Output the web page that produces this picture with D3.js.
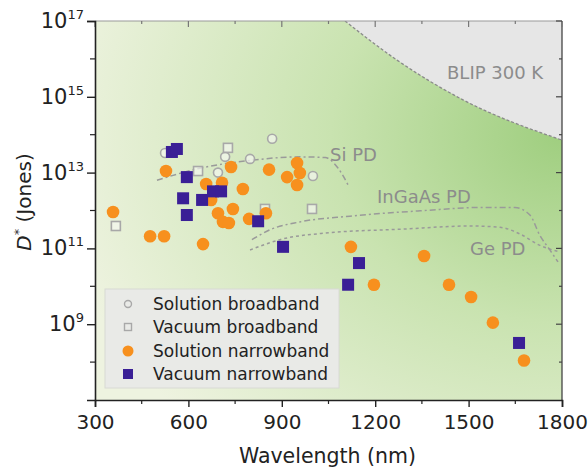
<!DOCTYPE html>
<html><head><meta charset="utf-8">
<script src="https://cdn.jsdelivr.net/npm/d3@7"></script>
<style>body{margin:0;background:#fff;}svg{display:block;}</style>
</head><body><svg id="c" width="588" height="470"></svg>
<script>
// ---- data ----
const xTicks = [300, 600, 900, 1200, 1500, 1800];
const yTickExps = [9, 11, 13, 15, 17];

const solNarrowWl = [358,477,522,528,647,657,708,673,695,711,730,743,737,775,795,849,859,917,949,958,949,1122,1196,1357,1437,1508,1578,1678];
const solNarrowD  = [9.1e11,2.1e11,2.1e11,1.1e13,1.3e11,5.0e12,5.4e12,1.9e12,8.5e11,5.0e11,4.7e11,1.1e12,1.4e13,3.7e12,6.0e11,8.5e11,1.2e13,7.6e12,1.8e13,9.8e12,4.7e12,1.1e11,1.1e10,6.3e10,1.1e10,5.2e9,1.1e9,1.1e8];

const vacNarrowWl = [547,563,595,583,644,595,679,705,824,904,1148,1113,1662];
const vacNarrowD  = [3.5e13,4.2e13,7.6e12,2.1e12,1.9e12,7.6e11,3.2e12,3.2e12,5.2e11,1.1e11,4.1e10,1.1e10,3.2e8];

const solBroadWl = [525,718,695,869,1000,798];
const solBroadD  = [3.3e13,2.6e13,1.0e13,7.8e13,8.1e12,2.3e13];

const vacBroadWl = [727,846,997,367,631];
const vacBroadD  = [4.5e13,1.1e12,1.1e12,3.9e11,1.1e13];

const siWl = [499,637,798,958,1039,1081,1113];
const siD  = [6.3e12,1.3e13,2.1e13,2.6e13,2.5e13,1.3e13,4.7e12];
const ingaasWl = [804,862,958,1119,1344,1537,1649,1697,1729,1761,1787];
const ingaasD  = [1.7e11,3.1e11,5.0e11,7.1e11,9.8e11,1.2e12,1.2e12,7.6e11,2.2e11,9.1e10,4.4e10];
const geWl = [798,894,1055,1280,1504,1601,1665,1729,1793];
const geD  = [9.1e10,1.7e11,2.6e11,3.2e11,3.9e11,3.6e11,2.4e11,1.2e11,8.1e10];
const blipWl = [1103,1270,1482,1800];
const blipD  = [1e17,9.3e15,8.3e14,7.2e13];

const legendLabels = ["Solution broadband","Vacuum broadband","Solution narrowband","Vacuum narrowband"];

// ---- layout ----
const L = 95, R = 562, T = 21, B = 400;
const ORANGE = "#f7901e", PURPLE = "#3a1f96", GRAYM = "#a8a8a8";
const svg = d3.select("#c");
const x = d3.scaleLinear([300, 1800], [L, R]);
const y = d3.scaleLog([1e7, 1e17], [B, T]);
const FONT = "'DejaVu Sans', Arial, sans-serif";

const defs = svg.append("defs");
const rg = defs.append("radialGradient").attr("id","bg")
  .attr("cx","100%").attr("cy","30%").attr("r","110%").attr("fx","100%").attr("fy","30%");
rg.append("stop").attr("offset","0%").attr("stop-color","#9fce7f");
rg.append("stop").attr("offset","45%").attr("stop-color","#c9e3b0");
rg.append("stop").attr("offset","100%").attr("stop-color","#eef3e0");
defs.append("clipPath").attr("id","clip").append("rect")
  .attr("x",L).attr("y",T).attr("width",R-L).attr("height",B-T);

svg.append("rect").attr("x",L).attr("y",T).attr("width",R-L).attr("height",B-T).attr("fill","url(#bg)");

const plot = svg.append("g").attr("clip-path","url(#clip)");

// BLIP region
const blipPts = blipWl.map((w,i)=>[x(w), y(blipD[i])]);
const blipLine = d3.line().curve(d3.curveMonotoneX);
plot.append("path")
  .attr("d", blipLine(blipPts) + `L${R},${T}Z`)
  .attr("fill","#e6e6e6");
plot.append("path").attr("d", blipLine(blipPts)).attr("fill","none")
  .attr("stroke","#8a8a8a").attr("stroke-width",1.3).attr("stroke-dasharray","3,2");

// reference lines
const refLine = d3.line().x(d=>x(d[0])).y(d=>y(d[1])).curve(d3.curveMonotoneX);
function drawRef(wl, D, dash){
  plot.append("path").attr("d", refLine(wl.map((w,i)=>[w,D[i]])))
    .attr("fill","none").attr("stroke","#9a9a9a").attr("stroke-width",1.5)
    .attr("stroke-dasharray",dash);
}
drawRef(siWl, siD, "6,3,2,3");
drawRef(ingaasWl, ingaasD, "6,3,2,3");
drawRef(geWl, geD, "3,3");

// labels in plot
const lab = (t,px,py)=>svg.append("text").attr("x",px).attr("y",py).text(t)
  .attr("font-family",FONT).attr("font-size",18).attr("fill","#8c8c8c");
lab("BLIP 300 K", 447, 79);
lab("Si PD", 330, 161);
lab("InGaAs PD", 377, 203);
lab("Ge PD", 470, 255);

// markers
plot.selectAll(".sb").data(solBroadWl).join("circle")
  .attr("cx",(d)=>x(d)).attr("cy",(d,i)=>y(solBroadD[i])).attr("r",4.5)
  .attr("fill","#f4f6f0").attr("fill-opacity",0.7).attr("stroke",GRAYM).attr("stroke-width",1.6);
plot.selectAll(".vb").data(vacBroadWl).join("rect")
  .attr("x",(d)=>x(d)-4.5).attr("y",(d,i)=>y(vacBroadD[i])-4.5).attr("width",9).attr("height",9)
  .attr("fill","#f4f6f0").attr("fill-opacity",0.7).attr("stroke",GRAYM).attr("stroke-width",1.6);
plot.selectAll(".sn").data(solNarrowWl).join("circle")
  .attr("cx",(d)=>x(d)).attr("cy",(d,i)=>y(solNarrowD[i])).attr("r",6.3)
  .attr("fill",ORANGE);
plot.selectAll(".vn").data(vacNarrowWl).join("rect")
  .attr("x",(d)=>x(d)-6).attr("y",(d,i)=>y(vacNarrowD[i])-6).attr("width",12).attr("height",12)
  .attr("fill",PURPLE);

// legend
const lg = svg.append("g");
lg.append("rect").attr("x",105).attr("y",289).attr("width",234).attr("height",99)
  .attr("fill","#e9eae7").attr("stroke","#d8dad4").attr("stroke-width",1);
const ly = [304, 327, 351, 374];
lg.append("circle").attr("cx",128).attr("cy",ly[0]).attr("r",3.5).attr("fill","none").attr("stroke",GRAYM).attr("stroke-width",1.4);
lg.append("rect").attr("x",124.5).attr("y",ly[1]-3.5).attr("width",7).attr("height",7).attr("fill","none").attr("stroke",GRAYM).attr("stroke-width",1.4);
lg.append("circle").attr("cx",128).attr("cy",ly[2]).attr("r",5.5).attr("fill",ORANGE);
lg.append("rect").attr("x",123).attr("y",ly[3]-5).attr("width",10).attr("height",10).attr("fill",PURPLE);
legendLabels.forEach((t,i)=>{
  lg.append("text").attr("x",153).attr("y",ly[i]+6).text(t)
    .attr("font-family",FONT).attr("font-size",17).attr("fill","#222");
});

// axes frame
svg.append("line").attr("x1",L).attr("x2",R).attr("y1",T).attr("y2",T).attr("stroke","#999").attr("stroke-width",1);
svg.append("line").attr("x1",R).attr("x2",R).attr("y1",T).attr("y2",B).attr("stroke","#444").attr("stroke-width",1.3);

const xAxis = d3.axisBottom(x).tickValues(xTicks).tickSize(7).tickFormat(d3.format("d"));
const gx = svg.append("g").attr("transform",`translate(0,${B})`).call(xAxis);
gx.select(".domain").attr("stroke","#222").attr("stroke-width",1.6);
gx.selectAll(".tick line").attr("stroke","#222").attr("stroke-width",1.4);
gx.selectAll(".tick text").attr("font-family",FONT).attr("font-size",20).attr("fill","#222").attr("dy","0.95em");
const xMinor = d3.range(450, 1800, 300);
svg.selectAll(".xm").data(xMinor).join("line")
  .attr("x1",d=>x(d)).attr("x2",d=>x(d)).attr("y1",B).attr("y2",B+4).attr("stroke","#222").attr("stroke-width",1.2);
// top mirrored ticks
svg.selectAll(".xt").data(xTicks.concat(xMinor)).join("line")
  .attr("x1",d=>x(d)).attr("x2",d=>x(d)).attr("y1",T).attr("y2",d=>T+(xTicks.includes(d)?6:3)).attr("stroke","#777").attr("stroke-width",1.2);

const yAxis = d3.axisLeft(y).tickValues(yTickExps.map(e=>Math.pow(10,e))).tickSize(8).tickFormat("");
const gy = svg.append("g").attr("transform",`translate(${L},0)`).call(yAxis);
gy.select(".domain").attr("stroke","#222").attr("stroke-width",1.6);
gy.selectAll(".tick line").attr("stroke","#222").attr("stroke-width",1.4);
const yMinor = [8,10,12,14,16].map(e=>Math.pow(10,e));
svg.selectAll(".ym").data(yMinor).join("line")
  .attr("x1",L-5).attr("x2",L).attr("y1",d=>y(d)).attr("y2",d=>y(d)).attr("stroke","#222").attr("stroke-width",1.2);
svg.selectAll(".yr").data(yTickExps.map(e=>Math.pow(10,e)).concat(yMinor)).join("line")
  .attr("x1",R).attr("x2",d=>R-(yMinor.includes(d)?3:6)).attr("y1",d=>y(d)).attr("y2",d=>y(d)).attr("stroke","#444").attr("stroke-width",1.2);

// y tick labels with superscripts
yTickExps.forEach(e=>{
  const t = svg.append("text").attr("x",L-11).attr("y",y(Math.pow(10,e))+7)
    .attr("text-anchor","end").attr("font-family",FONT).attr("fill","#222");
  t.append("tspan").attr("font-size",21).text("10");
  t.append("tspan").attr("font-size",13).attr("dy",-9).text(e);
});

// axis titles
svg.append("text").attr("x",(L+R)/2-1).attr("y",463).attr("text-anchor","middle")
  .attr("font-family",FONT).attr("font-size",20.5).attr("fill","#222").text("Wavelength (nm)");
const yt = svg.append("text").attr("transform","translate(31,202) rotate(-90)").attr("text-anchor","middle")
  .attr("font-family",FONT).attr("font-size",20).attr("fill","#222");
yt.append("tspan").attr("font-style","italic").text("D");
yt.append("tspan").attr("font-size",13).attr("dy",-8).text("*");
yt.append("tspan").attr("dy",8).text(" (Jones)");
</script></body></html>
